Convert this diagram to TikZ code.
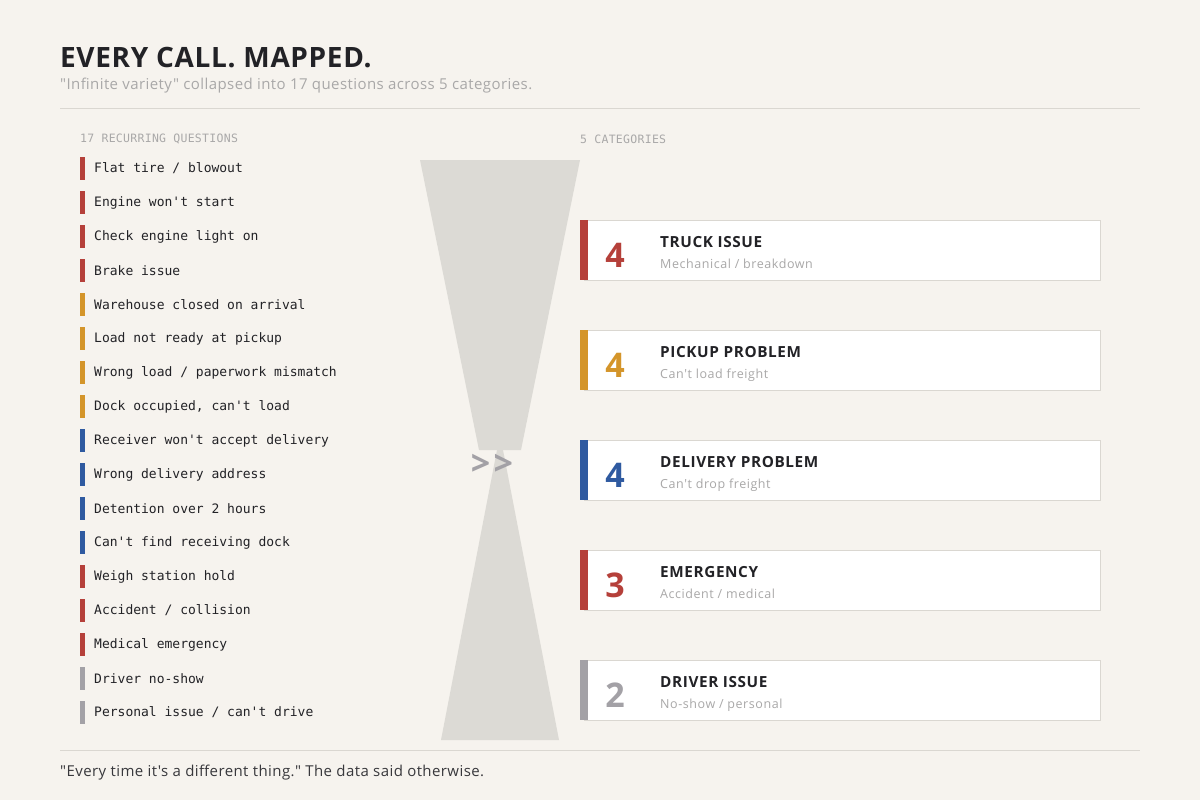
\documentclass[tikz,border=0pt]{standalone}
\usepackage{fontspec}
\newfontfamily\sansf{Open Sans}[Ligatures=TeXOff]
\newfontfamily\monof{DejaVu Sans Mono}[Ligatures=TeXOff]
\definecolor{bg}{HTML}{F6F3EE}
\definecolor{ink}{HTML}{222226}
\definecolor{soft}{HTML}{A9A8A8}
\definecolor{rule}{HTML}{DAD7D1}
\definecolor{funnel}{HTML}{DCDAD5}
\definecolor{cred}{HTML}{B5403A}
\definecolor{cgold}{HTML}{D4952A}
\definecolor{cblue}{HTML}{2F5AA0}
\definecolor{cgray}{HTML}{A3A1A6}
\newcommand{\ls}[1]{\addfontfeature{LetterSpace=#1}}
\tikzset{
  itemtxt/.style={anchor=west,inner sep=0pt,font=\monof\fontsize{13}{15}\selectfont,text=ink},
  headtxt/.style={anchor=west,inner sep=0pt,font=\monof\fontsize{11.5}{13}\selectfont\ls{2.5},text=soft},
  cardbox/.style={draw=rule,line width=1pt,fill=white},
  cattitle/.style={anchor=base west,inner sep=0pt,font=\sansf\bfseries\fontsize{15.3}{17}\selectfont\ls{4},text=ink},
  catsub/.style={anchor=base west,inner sep=0pt,font=\sansf\fontsize{12.5}{14}\selectfont\ls{4.5},text=soft},
  catnum/.style={anchor=base,inner sep=0pt,font=\sansf\bfseries\fontsize{34}{36}\selectfont},
}
\begin{document}
\begin{tikzpicture}[x=1pt,y=-1pt]
\fill[bg] (0,0) rectangle (1200,800);
\useasboundingbox (0,0) rectangle (1200,800);
% header
\node[anchor=base west,inner sep=0pt,font=\sansf\bfseries\fontsize{28}{30}\selectfont\ls{2.3},text=ink] (title) at (60,67) {EVERY CALL. MAPPED.};
\node[anchor=base west,inner sep=0pt,font=\sansf\fontsize{15}{17}\selectfont\ls{2.8},text=soft] (subtitle) at (60,89) {"Infinite variety" collapsed into 17 questions across 5 categories.};
\draw[rule,line width=1pt] (60,108) -- (1140,108);
\node[headtxt] (lhead) at (80,139) {17 RECURRING QUESTIONS};
\node[headtxt] (rhead) at (580,139) {5 CATEGORIES};
% funnel
\fill[funnel] (420,160) -- (580,160) -- (521,450) -- (479,450) -- cycle;
\fill[funnel] (497,450) -- (503,450) -- (559,740) -- (441,740) -- cycle;
\node[inner sep=0pt,font=\sansf\bfseries\fontsize{34}{36}\selectfont\ls{10},text=cgray] (arrows) at (492,465) {>{}>};
% items
\foreach \t/\c [count=\i from 0] in {
  {Flat tire / blowout}/cred,
  {Engine won't start}/cred,
  {Check engine light on}/cred,
  {Brake issue}/cred,
  {Warehouse closed on arrival}/cgold,
  {Load not ready at pickup}/cgold,
  {Wrong load / paperwork mismatch}/cgold,
  {Dock occupied, can't load}/cgold,
  {Receiver won't accept delivery}/cblue,
  {Wrong delivery address}/cblue,
  {Detention over 2 hours}/cblue,
  {Can't find receiving dock}/cblue,
  {Weigh station hold}/cred,
  {Accident / collision}/cred,
  {Medical emergency}/cred,
  {Driver no-show}/cgray,
  {Personal issue / can't drive}/cgray}{
  \pgfmathsetmacro{\yy}{168+34*\i}
  \fill[\c] (80,\yy-11.5) rectangle (85,\yy+11.5);
  \node[itemtxt] (item\i) at (94,\yy+0.5) {\t};
}
% categories
\foreach \n/\tt/\ss/\c [count=\i from 0] in {
  4/TRUCK ISSUE/{Mechanical / breakdown}/cred,
  4/PICKUP PROBLEM/{Can't load freight}/cgold,
  4/DELIVERY PROBLEM/{Can't drop freight}/cblue,
  3/EMERGENCY/{Accident / medical}/cred,
  2/DRIVER ISSUE/{No-show / personal}/cgray}{
  \pgfmathsetmacro{\yy}{220+110*\i}
  \draw[cardbox] (584,\yy) rectangle (1100,\yy+60);
  \fill[\c] (580,\yy) rectangle (588,\yy+60);
  \node[catnum,text=\c] (num\i) at (615,\yy+47) {\n};
  \node[cattitle] (ct\i) at (660,\yy+27) {\tt};
  \node[catsub] (cs\i) at (660,\yy+48) {\ss};
}
% footer
\draw[rule,line width=1pt] (60,750) -- (1140,750);
\node[anchor=base west,inner sep=0pt,font=\sansf\fontsize{15}{17}\selectfont\ls{2.8},text=ink!90] (footer) at (60,776) {"Every time it's a different thing." The data said otherwise.};
\end{tikzpicture}
\end{document}
